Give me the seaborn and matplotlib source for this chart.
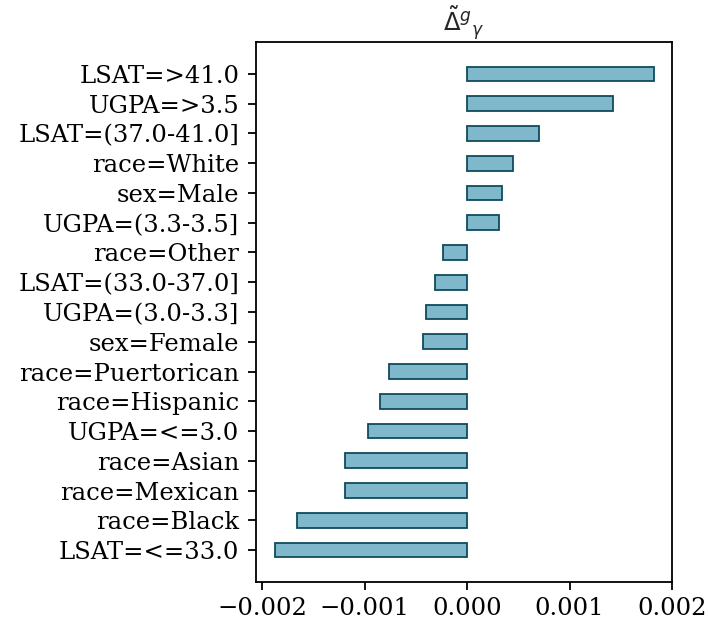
import matplotlib
matplotlib.use("Agg")
import matplotlib.pyplot as plt
import seaborn as sns
import pandas as pd

categories = ["LSAT=>41.0", "UGPA=>3.5", "LSAT=(37.0-41.0]", "race=White", "sex=Male",
              "UGPA=(3.3-3.5]", "race=Other", "LSAT=(33.0-37.0]", "UGPA=(3.0-3.3]",
              "sex=Female", "race=Puertorican", "race=Hispanic", "UGPA=<=3.0",
              "race=Asian", "race=Mexican", "race=Black", "LSAT=<=33.0"]
values = [0.001824, 0.001424, 0.00070, 0.00045, 0.00034, 0.00031, -0.000234, -0.00031,
          -0.00040, -0.00043, -0.00076, -0.00085, -0.00097, -0.00119, -0.00119,
          -0.00166, -0.00187]
x_ticks = [-0.002, -0.001, 0.0, 0.001, 0.002]
title = r"$\tilde{\Delta}^{g}{}_{\gamma}$"

df = pd.DataFrame({"cat": categories, "val": values})

sns.set_style("ticks")
fig = plt.figure(figsize=(7.08, 6.28), dpi=100)
ax = fig.add_axes([256/708, 1-582/628, (672-256)/708, (582-42)/628])
sns.barplot(data=df, y="cat", x="val", orient="h", width=0.5, color="#7fb8cb",
            saturation=1, edgecolor="#0f4b5c", linewidth=1.3, ax=ax)
n = len(categories)
ax.set_ylim(n - 1 + 1.075, -1.075)
ax.set_xlim(-0.00206, 0.002)
ax.set_xticks(x_ticks)
ax.set_xticklabels([f"{t:.3f}".replace("-", "\u2212") for t in x_ticks],
                   family="DejaVu Serif", fontsize=17.5)
ax.set_yticks(range(n))
ax.set_yticklabels(categories, family="DejaVu Serif", fontsize=17.5)
ax.set_xlabel("")
ax.set_ylabel("")
ax.set_title(title, fontsize=17.5, pad=6)
for s in ax.spines.values():
    s.set_visible(True)
    s.set_linewidth(1.3)
    s.set_color("black")
ax.tick_params(axis="both", colors="black", width=1.3, length=6)
ax.tick_params(axis="y", pad=6)
ax.tick_params(axis="x", pad=5)
fig.savefig("out.png", dpi=100)
